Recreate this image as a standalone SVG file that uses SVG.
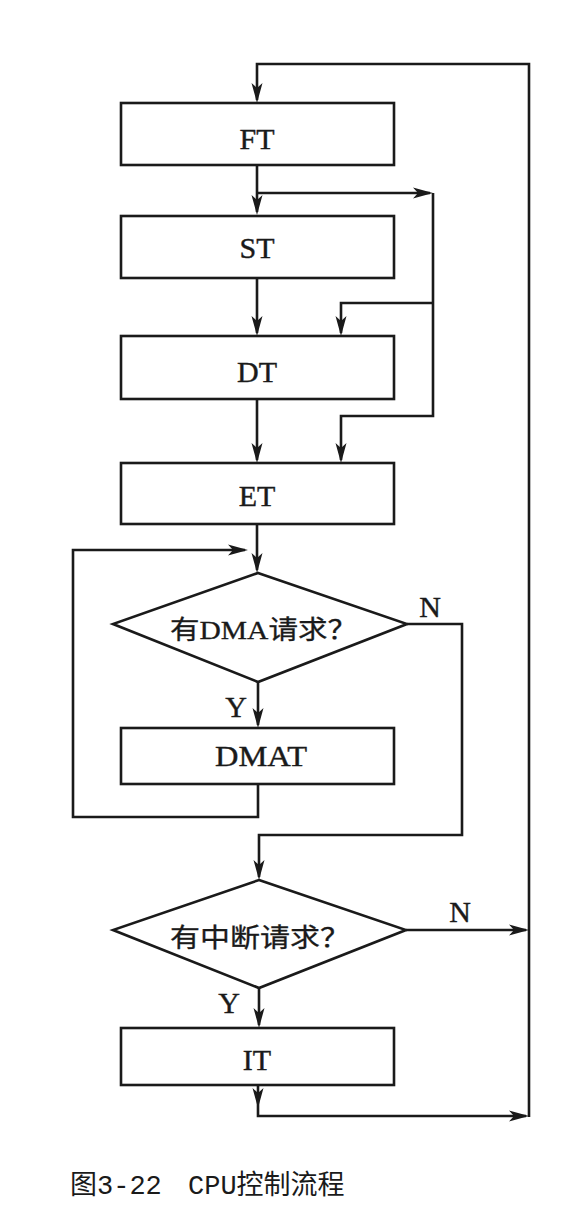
<svg xmlns="http://www.w3.org/2000/svg" width="570" height="1222" viewBox="0 0 570 1222">
<style>
.box{fill:#fff;stroke:#1a1a1a;stroke-width:2.6}
.ln{fill:none;stroke:#1a1a1a;stroke-width:2.6;marker-end:url(#ah)}
.t{font-family:"Liberation Serif","Noto Sans CJK SC",serif;font-size:30px;fill:#1a1a1a;stroke:#1a1a1a;stroke-width:0.4;text-anchor:middle}
.cj{font-family:"Liberation Serif","Noto Sans CJK SC",serif;font-size:26px;fill:#1a1a1a;stroke:#1a1a1a;stroke-width:0.3}
.cap{font-family:"Liberation Mono","Noto Sans CJK SC",monospace;font-size:27px;fill:#1a1a1a}
</style>
<defs>
<marker id="ah" markerUnits="userSpaceOnUse" markerWidth="22" markerHeight="12" refX="17" refY="5.5" orient="auto" overflow="visible">
<path d="M0,0 L20,5.5 L0,11 L5,5.5 Z" fill="#1a1a1a"/>
</marker>
</defs>
<rect width="570" height="1222" fill="#fff"/>
<g id="connectors">
<path class="ln" d="M529,1117 V64 H257 V100"/>
<path class="ln" d="M257,165 V212"/>
<path class="ln" d="M257,193 H430"/>
<path class="ln" d="M433,193 V416 H341 V460"/>
<path class="ln" d="M433,303 H341 V333"/>
<path class="ln" d="M257,278 V333"/>
<path class="ln" d="M257,399 V460"/>
<path class="ln" d="M257,524 V570"/>
<path class="ln" d="M258,784 V817 H73 V550 H245"/>
<path class="ln" d="M258,682 V725"/>
<path class="ln" d="M407,624 H462 V835 H259 V877"/>
<path class="ln" d="M259,988 V1025"/>
<path class="ln" d="M406,930 H526"/>
<path class="ln" d="M258,1085 V1105"/>
<path class="ln" d="M258,1105 V1116 H526"/>
</g>
<g id="FT"><rect class="box" x="121" y="103" width="273" height="62"/><text class="t" x="257" y="149">FT</text></g>
<g id="ST"><rect class="box" x="121" y="216" width="273" height="62"/><text class="t" x="257" y="258">ST</text></g>
<g id="DT"><rect class="box" x="121" y="336" width="273" height="63"/><text class="t" x="257" y="382">DT</text></g>
<g id="ET"><rect class="box" x="121" y="463" width="273" height="61"/><text class="t" x="257" y="506">ET</text></g>
<g id="dma-q"><polygon class="box" points="258,573 407,624 258,682 113,624"/><text class="cj" x="170" y="639" textLength="187" lengthAdjust="spacingAndGlyphs">有DMA请求？</text></g>
<g id="DMAT"><rect class="box" x="121" y="728" width="273" height="56"/><text class="t" x="215" y="766" style="text-anchor:start" textLength="92" lengthAdjust="spacingAndGlyphs">DMAT</text></g>
<g id="int-q"><polygon class="box" points="259,880 406,930 259,988 113,930"/><text class="cj" x="170" y="947" textLength="180" lengthAdjust="spacingAndGlyphs">有中断请求？</text></g>
<g id="IT"><rect class="box" x="121" y="1028" width="273" height="57"/><text class="t" x="257" y="1070">IT</text></g>
<g id="labels">
<text class="t" x="236" y="717">Y</text>
<text class="t" x="229" y="1013">Y</text>
<text class="t" x="430" y="617">N</text>
<text class="t" x="460" y="922">N</text>
</g>
<g id="caption"><text class="cap" y="1194"><tspan x="70">图3-22</tspan><tspan x="188">CPU控制流程</tspan></text></g>
</svg>
